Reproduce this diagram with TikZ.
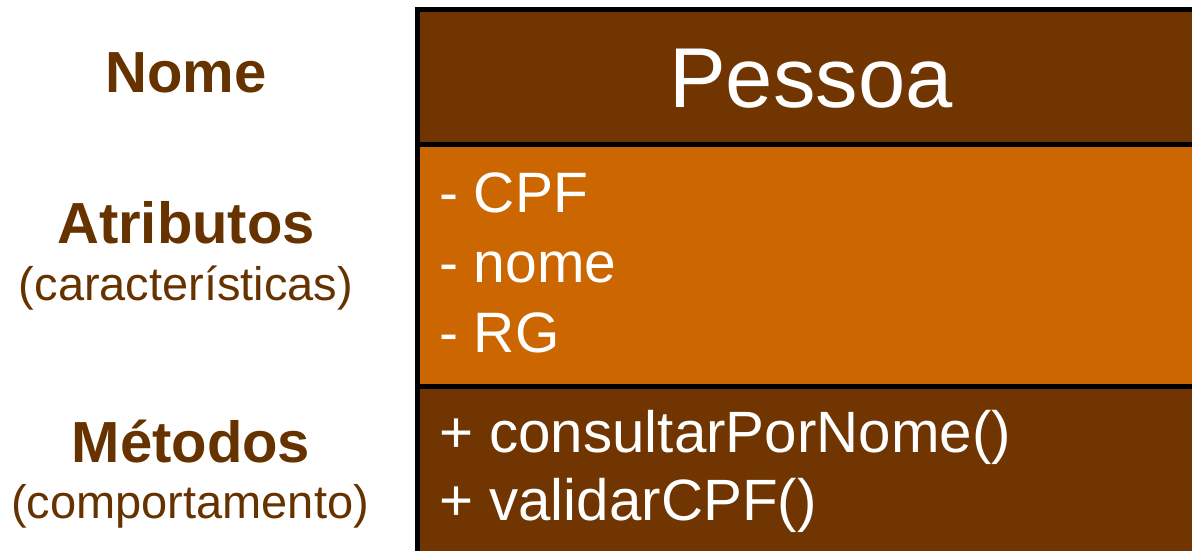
\documentclass[tikz,border=0pt]{standalone}
\usepackage{fontspec}
\setmainfont{Liberation Sans}
\definecolor{darkbrown}{RGB}{112,53,0}
\definecolor{orangefill}{RGB}{204,102,0}
\definecolor{labelbrown}{RGB}{102,51,0}
\begin{document}
\begin{tikzpicture}[x=1pt,y=-1pt,
  lbl/.style={anchor=base,text=labelbrown,inner sep=0pt},
  bold/.style={lbl,font=\fontsize{58}{58}\selectfont\bfseries},
  sub/.style={lbl,font=\fontsize{47}{47}\selectfont},
  member/.style={anchor=base west,text=white,inner sep=0pt,font=\fontsize{57}{57}\selectfont},
  method/.style={member,font=\fontsize{58.3}{58.3}\selectfont},
  sep/.style={line width=5pt,draw=black}]
\useasboundingbox (0,0) rectangle (1192,550);
\clip (0,0) rectangle (1192,550);
% compartments
\fill[darkbrown] (417.5,9.5) rectangle (1220,144.5);
\fill[orangefill] (417.5,144.5) rectangle (1220,386.5);
\fill[darkbrown] (417.5,386.5) rectangle (1220,580);
\draw[sep] (1220,9.5) -- (417.5,9.5) -- (417.5,580);
\draw[sep] (417.5,144.5) -- (1220,144.5);
\draw[sep] (417.5,386.5) -- (1220,386.5);
% class name
\node[anchor=base,text=white,inner sep=0pt,font=\fontsize{85}{85}\selectfont] (title) at (811,107) {Pessoa};
% attributes
\node[member] (a1) at (439,212) {- CPF};
\node[member] (a2) at (439,282) {- nome};
\node[member] (a3) at (439,352) {- RG};
% methods
\node[method] (m1) at (439,452) {+ consultarPorNome()};
\node[method] (m2) at (439,520) {+ validarCPF()};
% left labels
\node[bold] (nome) at (186,92) {Nome};
\node[bold] (atrib) at (186,243) {Atributos};
\node[sub] (carac) at (186,300) {(características)};
\node[bold] (metod) at (191,462) {Métodos};
\node[sub] (comp) at (190,518) {(comportamento)};
\end{tikzpicture}
\end{document}
